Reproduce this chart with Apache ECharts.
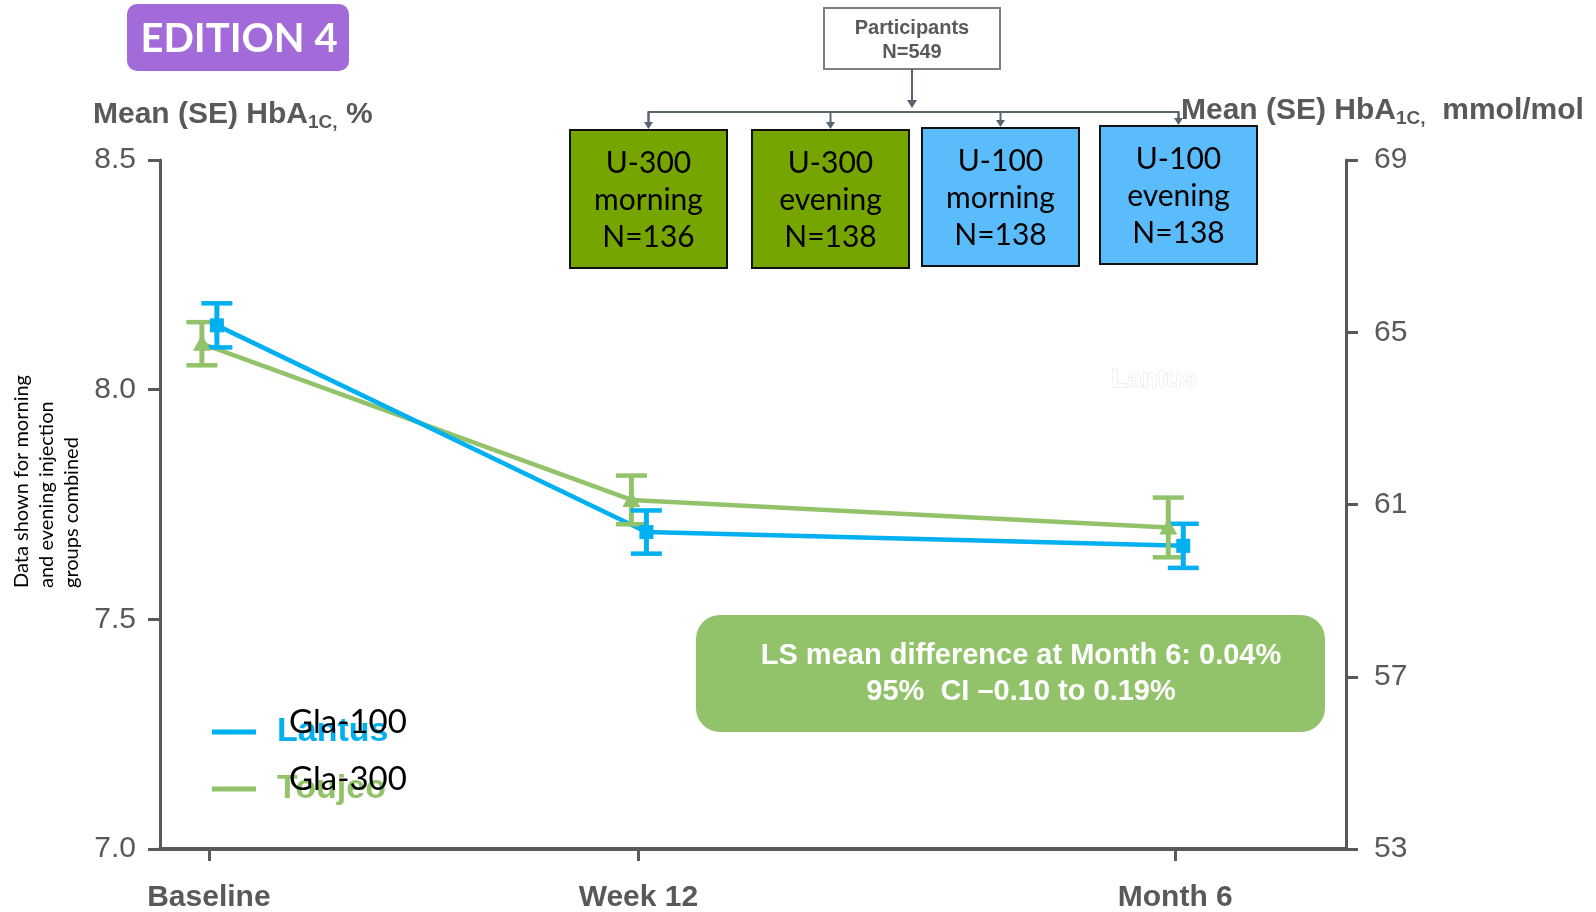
<!DOCTYPE html>
<html>
<head>
<meta charset="utf-8">
<script src="https://cdn.jsdelivr.net/npm/echarts@6/dist/echarts.min.js"></script>
<style>
  html, body { margin: 0; padding: 0; background: #ffffff; }
  #chart { width: 1596px; height: 912px; }
</style>
</head>
<body>
<div id="chart"></div>
<script>
// Visit time points (x position in weeks from baseline)
const timepoints = ['Baseline', 'Week 12', 'Month 6'];
const timeWeeks = [0, 12, 27];

// Mean (SE) HbA1c, %
const lantusMean = [8.14, 7.69, 7.66];
const lantusSE = [0.048, 0.047, 0.048];
const toujeoMean = [8.10, 7.76, 7.70];
const toujeoSE = [0.047, 0.053, 0.065];

// Study arms
const armDose = ['U-300', 'U-300', 'U-100', 'U-100'];
const armTime = ['morning', 'evening', 'morning', 'evening'];
const armN = [136, 138, 138, 138];
const totalN = 549;

const ARIAL = '"Liberation Sans", Arial, sans-serif';
const CALIBRI = 'Lato, "Open Sans", sans-serif';
const AXIS_GREY = '#595959';
const BLUE = '#00B0F0';
const GREEN = '#92C36A';

// Error-bar series: line joining the means, SE whiskers with caps, marker
function errorSeries(name, color, means, ses, dodge, shape) {
  return {
    type: 'custom',
    name: name,
    xAxisIndex: 0,
    yAxisIndex: 0,
    data: timeWeeks.map((w, i) => [w, means[i], ses[i]]),
    encode: { x: 0, y: 1 },
    itemStyle: { color: color },
    renderItem: function (params, api) {
      const i = params.dataIndex;
      const pt = k => {
        const c = api.coord([timeWeeks[k], means[k]]);
        return [c[0] + dodge, c[1]];
      };
      const p = pt(i);
      const hi = api.coord([timeWeeks[i], means[i] + ses[i]])[1];
      const lo = api.coord([timeWeeks[i], means[i] - ses[i]])[1];
      const half = 15.5;
      const children = [];
      if (i < means.length - 1) {
        const q = pt(i + 1);
        children.push({ type: 'line', z2: 0,
          shape: { x1: p[0], y1: p[1], x2: q[0], y2: q[1] },
          style: { stroke: color, lineWidth: 4.5 } });
      }
      children.push({ type: 'line', z2: 5,
        shape: { x1: p[0], y1: hi, x2: p[0], y2: lo },
        style: { stroke: color, lineWidth: 5 } });
      children.push({ type: 'line', z2: 5,
        shape: { x1: p[0] - half, y1: hi, x2: p[0] + half, y2: hi },
        style: { stroke: color, lineWidth: 4.5 } });
      children.push({ type: 'line', z2: 5,
        shape: { x1: p[0] - half, y1: lo, x2: p[0] + half, y2: lo },
        style: { stroke: color, lineWidth: 4.5 } });
      if (shape === 'square') {
        children.push({ type: 'rect', z2: 6,
          shape: { x: p[0] - 7, y: p[1] - 7, width: 14, height: 14 },
          style: { fill: color } });
      } else {
        children.push({ type: 'polygon', z2: 6,
          shape: { points: [[p[0], p[1] - 9], [p[0] - 9, p[1] + 7], [p[0] + 9, p[1] + 7]] },
          style: { fill: color } });
      }
      return { type: 'group', children: children };
    }
  };
}

const chart = echarts.init(document.getElementById('chart'), null, { renderer: 'canvas' });

// Flow-chart of the randomised arms
const armBoxes = [
  { x: 570, y: 130, fill: '#77A500' },
  { x: 752, y: 130, fill: '#77A500' },
  { x: 922, y: 128, fill: '#5BBCFB' },
  { x: 1100, y: 126, fill: '#5BBCFB' }
];
const BOX_W = 157, BOX_H = 138;
const flowStroke = '#5a6470';

const graphics = [];

// EDITION badge
graphics.push({ type: 'rect', shape: { x: 127, y: 4, width: 222, height: 67, r: 10 },
  style: { fill: '#A36BD9' } });
graphics.push({ type: 'text', x: 239, y: 39,
  style: { text: 'EDITION 4', fill: '#ffffff', font: 'bold 40px ' + CALIBRI,
    align: 'center', verticalAlign: 'middle' } });

// Participants box
graphics.push({ type: 'rect', shape: { x: 824, y: 8, width: 176, height: 61 },
  style: { fill: '#ffffff', stroke: '#7f7f7f', lineWidth: 2 } });
graphics.push({ type: 'text', x: 912, y: 40,
  style: { text: 'Participants\nN=' + totalN, fill: AXIS_GREY, font: 'bold 20px ' + ARIAL,
    lineHeight: 24, align: 'center', verticalAlign: 'middle' } });

// Connectors
graphics.push({ type: 'line', shape: { x1: 912, y1: 69, x2: 912, y2: 104 },
  style: { stroke: flowStroke, lineWidth: 2 } });
graphics.push({ type: 'polygon', shape: { points: [[907, 100], [917, 100], [912, 108]] },
  style: { fill: flowStroke } });
const dropX = armBoxes.map(b => b.x + BOX_W / 2);
graphics.push({ type: 'polyline',
  shape: { points: [[dropX[0], 124], [dropX[0], 112], [dropX[3], 112], [dropX[3], 122]] },
  style: { stroke: flowStroke, lineWidth: 2, fill: null } });
armBoxes.forEach((b, i) => {
  const x = dropX[i];
  graphics.push({ type: 'line', shape: { x1: x, y1: 112, x2: x, y2: b.y - 6 },
    style: { stroke: flowStroke, lineWidth: 2 } });
  graphics.push({ type: 'polygon', shape: { points: [[x - 4.5, b.y - 8], [x + 4.5, b.y - 8], [x, b.y - 1]] },
    style: { fill: flowStroke } });
  graphics.push({ type: 'rect', shape: { x: b.x, y: b.y, width: BOX_W, height: BOX_H },
    style: { fill: b.fill, stroke: '#111111', lineWidth: 2 } });
  graphics.push({ type: 'text', x: x, y: b.y + 70,
    style: { text: armDose[i] + '\n' + armTime[i] + '\nN=' + armN[i], fill: '#000000',
      font: '30px ' + CALIBRI, lineHeight: 37, align: 'center', verticalAlign: 'middle' } });
});

// Axis titles
function axisTitle(x, y, tail) {
  return { type: 'text', x: x, y: y,
    style: {
      text: '{m|Mean (SE) HbA}{s|1C,}{m|' + tail + '}',
      align: 'left', verticalAlign: 'middle',
      rich: {
        m: { font: 'bold 30px ' + ARIAL, fill: AXIS_GREY, lineHeight: 34, verticalAlign: 'middle' },
        s: { font: 'bold 19px ' + ARIAL, fill: AXIS_GREY, lineHeight: 34, padding: [16, 0, 0, 0], verticalAlign: 'middle' }
      }
    } };
}
graphics.push(axisTitle(93, 115, ' %'));
graphics.push(axisTitle(1181, 111, '  mmol/mol'));

// Side note
graphics.push({ type: 'text', x: 9, y: 588, rotation: Math.PI / 2,
  style: { text: 'Data shown for morning\nand evening injection\ngroups combined', fill: '#000000',
    font: '20px ' + CALIBRI, lineHeight: 25, align: 'left', verticalAlign: 'top' } });

// Faint label
graphics.push({ type: 'text', x: 1154, y: 380,
  style: { text: 'Lantus', fill: '#ffffff', stroke: '#e4e4e4', lineWidth: 1,
    font: 'bold 26px ' + ARIAL, align: 'center', verticalAlign: 'middle' } });

// Treatment difference box
graphics.push({ type: 'rect', shape: { x: 696, y: 615, width: 629, height: 117, r: 24 },
  style: { fill: GREEN } });
graphics.push({ type: 'text', x: 1021, y: 674,
  style: { text: 'LS mean difference at Month 6: 0.04%\n95%  CI \u20130.10 to 0.19%', fill: '#ffffff',
    font: 'bold 29px ' + ARIAL, lineHeight: 36, align: 'center', verticalAlign: 'middle' } });

// Generic-name labels printed over the legend
graphics.push({ type: 'text', x: 289, y: 722, z: 100,
  style: { text: 'Gla-100', fill: '#000000', font: '33px ' + CALIBRI, verticalAlign: 'middle' } });
graphics.push({ type: 'text', x: 289, y: 779, z: 100,
  style: { text: 'Gla-300', fill: '#000000', font: '33px ' + CALIBRI, verticalAlign: 'middle' } });

const option = {
  backgroundColor: '#ffffff',
  animation: false,
  grid: { left: 160, right: 250, top: 160, bottom: 63, outerBoundsMode: 'none', containLabel: false },
  legend: {
    orient: 'vertical',
    left: 207,
    top: 709,
    itemWidth: 44,
    itemHeight: 5,
    itemGap: 21,
    icon: 'rect',
    data: [
      { name: 'Lantus', textStyle: { color: BLUE } },
      { name: 'Toujeo', textStyle: { color: GREEN } }
    ],
    textStyle: { fontFamily: ARIAL, fontWeight: 'bold', fontSize: 34, lineHeight: 36, padding: [0, 0, 0, 16] }
  },
  xAxis: {
    type: 'value',
    min: -1.366,
    max: 31.77,
    splitLine: { show: false },
    axisLine: { onZero: false, lineStyle: { color: AXIS_GREY, width: 4 } },
    axisTick: { show: true, customValues: timeWeeks, length: 12, lineStyle: { color: AXIS_GREY, width: 3 } },
    axisLabel: {
      customValues: timeWeeks,
      margin: 34,
      formatter: v => timepoints[timeWeeks.indexOf(v)] || '',
      color: AXIS_GREY, fontFamily: ARIAL, fontWeight: 'bold', fontSize: 30
    }
  },
  yAxis: [
    {
      type: 'value', position: 'left', min: 7, max: 8.5, interval: 0.5,
      splitLine: { show: false },
      axisLine: { show: true, onZero: false, lineStyle: { color: AXIS_GREY, width: 3 } },
      axisTick: { show: true, length: 12, lineStyle: { color: AXIS_GREY, width: 3 } },
      axisLabel: { margin: 24, formatter: v => v.toFixed(1), color: AXIS_GREY, fontFamily: ARIAL, fontSize: 30 }
    },
    {
      type: 'value', position: 'right', min: 53, max: 69, interval: 4,
      splitLine: { show: false },
      axisLine: { show: true, onZero: false, lineStyle: { color: AXIS_GREY, width: 3 } },
      axisTick: { show: true, length: 12, lineStyle: { color: AXIS_GREY, width: 3 } },
      axisLabel: { margin: 28, color: AXIS_GREY, fontFamily: ARIAL, fontSize: 30 }
    }
  ],
  series: [
    errorSeries('Toujeo', GREEN, toujeoMean, toujeoSE, -7, 'triangle'),
    errorSeries('Lantus', BLUE, lantusMean, lantusSE, 8, 'square')
  ],
  graphic: graphics
};

chart.setOption(option);
</script>
</body>
</html>
